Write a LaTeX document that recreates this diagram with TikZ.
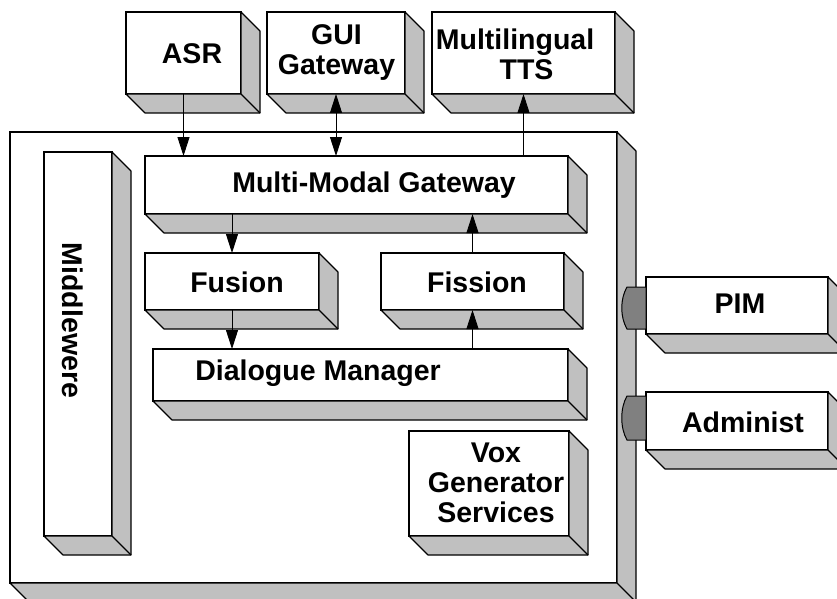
\documentclass[tikz,border=0pt]{standalone}
\usepackage{fontspec}
\setmainfont{Liberation Sans}
\usetikzlibrary{arrows.meta}
\newcommand{\boxfont}{\fontsize{28.5}{30}\selectfont\bfseries}
\definecolor{facegray}{HTML}{C0C0C0}
\definecolor{tabgray}{HTML}{808080}

\begin{document}
\begin{tikzpicture}[
		x=1pt, y=-1pt,
		box/.style 2 args={draw, fill=white, line width=1.1pt, inner sep=0pt, outer sep=0pt, minimum width=#1, minimum height=#2},
		face/.style={draw, fill=facegray, line width=1.1pt, line join=round},
		tab/.style={draw, fill=tabgray, line width=1pt},
		tip/.tip={Triangle[length=19pt, width=12pt]},
		conn/.style={line width=0.9pt, -tip},
		every label/.append style={font=\boxfont, align=center, inner sep=0pt}
	]
  \useasboundingbox (0,0) rectangle (837,599);
  \clip (0,0) rectangle (837,599);
  \node (system) [box={607pt}{451pt}] at (313.5, 357.5) {};
  \node (asr) [box={115pt}{82pt}, label={[shift={(8.5,0.5)}]center:ASR}] at (183.5, 53) {};
  \node (gui) [box={138pt}{82pt}, label={[shift={(0.5,0)}]center:{GUI\\Gateway}}] at (336, 53) {};
  \node (tts) [box={183pt}{82pt}, label={[shift={(-8.5,1)}]center:{Multilingual\\\hspace*{23pt}TTS}}] at (523.5, 53) {};
  \node (mw) [box={68pt}{384pt}, label={[shift={(-5,-23.5)}, rotate=-90]center:Middlewere}] at (78, 344) {};
  \node (mmg) [box={423pt}{58pt}, label={[shift={(17.5,0)}]center:Multi-Modal Gateway}] at (356.5, 185) {};
  \node (fusion) [box={174pt}{57pt}, label={[shift={(5,1)}]center:Fusion}] at (232, 281.5) {};
  \node (fission) [box={183pt}{57pt}, label={[shift={(4.5,1)}]center:Fission}] at (472.5, 281.5) {};
  \node (dm) [box={415pt}{52pt}, label={[shift={(-42.5,-2)}]center:Dialogue Manager}] at (360.5, 375) {};
  \node (vox) [box={160pt}{105pt}, label={[shift={(7,-1)}]center:{Vox\\Generator\\Services}}] at (489, 483.5) {};
  \node (pim) [box={182pt}{57pt}, label={[shift={(3,-1.5)}]center:PIM}] at (737, 305.5) {};
  \node (admin) [box={182pt}{58pt}, label={[shift={(6,1)}]center:Administ}] at (737, 421) {};
  % depth faces, right and bottom
  \foreach \n in {system, asr, gui, tts, mw, mmg, fusion, fission, dm, vox, pim, admin} {
    \draw[face] (\n.north east) -- ++(19,19) -- ([shift={(19,19)}]\n.south east)
      -- ([shift={(19,19)}]\n.south west) -- (\n.south west) -- (\n.south east) -- cycle;
    \draw[face] (\n.south east) -- ++(19,19);
  }
  % plugs on the platform side
  \draw[tab] (646,287) -- (627,287) .. controls (620,299) and (620,317) .. (627,329) -- (646,329) -- cycle;
  \draw[tab] (646,396) -- (627,396) .. controls (620,408) and (620,428) .. (627,440) -- (646,440) -- cycle;
  \draw[conn] (asr.south) -- (asr.south |- mmg.north);
  \draw[conn, tip-tip] (gui.south) -- (gui.south |- mmg.north);
  \draw[conn] (tts.south |- mmg.north) -- (tts.south);
  \draw[conn] (fusion.north |- mmg.south) -- (fusion.north);
  \draw[conn] (fission.north) -- (fission.north |- mmg.south);
  \draw[conn] (fusion.south) -- (fusion.south |- dm.north);
  \draw[conn] (fission.south |- dm.north) -- (fission.south);
\end{tikzpicture}
\end{document}
